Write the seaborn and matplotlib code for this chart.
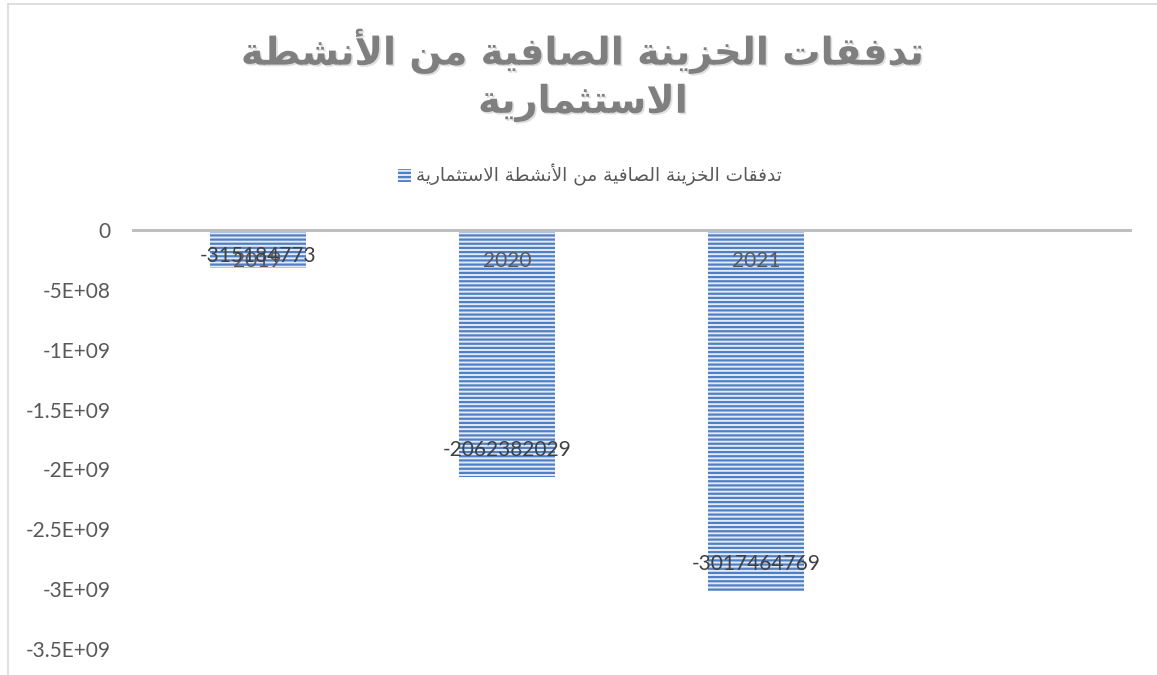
import matplotlib
matplotlib.use('Agg')
import matplotlib.pyplot as plt
import matplotlib.patches as mpatches
import matplotlib.patheffects as pe
from matplotlib.lines import Line2D
from matplotlib.ticker import FuncFormatter
import pandas as pd
import seaborn as sns

years = ['2019', '2020', '2021']
flows = [-315184773, -2062382029, -3017464769]
series_name = 'تدفقات الخزينة الصافية من الأنشطة الاستثمارية'
title_lines = ['تدفقات الخزينة الصافية من الأنشطة', 'الاستثمارية']

# arabic shaping by hand (matplotlib has no shaping / bidi)
ISO = {'ا': 0xFE8D, 'أ': 0xFE83, 'ة': 0xFE93, 'ت': 0xFE95, 'ث': 0xFE99,
       'خ': 0xFEA5, 'د': 0xFEA9, 'ر': 0xFEAD, 'ز': 0xFEAF, 'س': 0xFEB1,
       'ش': 0xFEB5, 'ص': 0xFEB9, 'ط': 0xFEC1, 'ف': 0xFED1, 'ق': 0xFED5,
       'ل': 0xFEDD, 'م': 0xFEE1, 'ن': 0xFEE5, 'ي': 0xFEF1}
RIGHT_ONLY = set('اأةدرز')
LAM_ALEF = {'ا': 0xFEFB, 'أ': 0xFEF7}


def shape(text):
    units = []
    i = 0
    while i < len(text):
        ch = text[i]
        if ch == 'ل' and i + 1 < len(text) and text[i + 1] in LAM_ALEF:
            units.append((LAM_ALEF[text[i + 1]], False))
            i += 2
            continue
        if ch in ISO:
            units.append((ISO[ch], ch not in RIGHT_ONLY))
        else:
            units.append((ch, None))
        i += 1
    out = []
    for k, (c, dual) in enumerate(units):
        if dual is None:
            out.append(c)
            continue
        jp = k > 0 and units[k - 1][1] is True
        jn = dual and k + 1 < len(units) and units[k + 1][1] is not None
        form = 3 if (jp and jn) else 1 if jp else 2 if jn else 0
        out.append(chr(c + form))
    return ''.join(reversed(out))


def excel_fmt(v, pos):
    if v == 0:
        return '0'
    return '{:.1E}'.format(v).replace('.0E', 'E')


sns.set_style('white')
plt.rcParams['font.family'] = ['Lato', 'DejaVu Sans']
plt.rcParams['hatch.linewidth'] = 1.6

bar_col = '#4f7fc4'
bar_bg = '#e4ebf6'

df = pd.DataFrame({'year': years, 'flow': flows})

fig = plt.figure(figsize=(11.57, 6.75), dpi=100)
ax = fig.add_axes([133 / 1157, 26 / 675, 997 / 1157, 419 / 675])

sns.barplot(data=df, x='year', y='flow', ax=ax, width=0.385,
            color=bar_bg, saturation=1, edgecolor=bar_col, linewidth=0)
for p in ax.patches:
    p.set_hatch('----')
    p.set_edgecolor(bar_col)

ax.set_axisbelow(False)
ax.set_xlim(-0.5, 3.5)
ax.set_ylim(-3.5e9, 0)
ax.set_yticks([-3.5e9, -3e9, -2.5e9, -2e9, -1.5e9, -1e9, -5e8, 0])
ax.yaxis.set_major_formatter(FuncFormatter(excel_fmt))
ax.set_xlabel('')
ax.set_ylabel('')

for s in ['top', 'right', 'left']:
    ax.spines[s].set_visible(False)
ax.spines['bottom'].set_position(('data', 0))
ax.spines['bottom'].set_color('#bfbfbf')
ax.spines['bottom'].set_linewidth(2.2)
ax.spines['bottom'].set_zorder(3)
ax.xaxis.set_zorder(3)

ax.tick_params(axis='y', length=0, pad=16, labelsize=15, labelcolor='#595959')
ax.tick_params(axis='x', length=0, pad=15, labelsize=15, labelcolor='#595959')

# data labels just inside the bar end
for i, v in enumerate(flows):
    y = min(v + 2.25e8, v * 0.7)
    ax.text(i, y, str(v), ha='center', va='center', fontsize=15,
            color='#404040', zorder=4)

# title
fig.text(0.504, 1 - 75 / 675, '\n'.join(shape(t) for t in title_lines),
         ha='center', va='center', fontsize=27.5, fontweight='bold',
         color='#7f7f7f', family='DejaVu Sans', linespacing=1.35,
         path_effects=[pe.withSimplePatchShadow(offset=(1.2, -1.2), shadow_rgbFace='#dedede', alpha=1)])

# legend
handle = mpatches.Patch(facecolor=bar_bg, edgecolor=bar_col, hatch='----', linewidth=0)
fig.legend([handle], [shape(series_name)], loc='center',
           bbox_to_anchor=(590 / 1157, 1 - 175 / 675), frameon=False,
           prop={'family': 'DejaVu Sans', 'size': 13.3}, labelcolor='#595959',
           handlelength=0.7, handleheight=0.7, handletextpad=0.3)

# chart frame edges
fig.add_artist(Line2D([8 / 1157, 1], [1 - 4 / 675, 1 - 4 / 675], color='#d9d9d9', lw=1.2))
fig.add_artist(Line2D([8 / 1157, 8 / 1157], [0, 1 - 4 / 675], color='#d9d9d9', lw=1.2))

fig.savefig('out.png', dpi=100)
